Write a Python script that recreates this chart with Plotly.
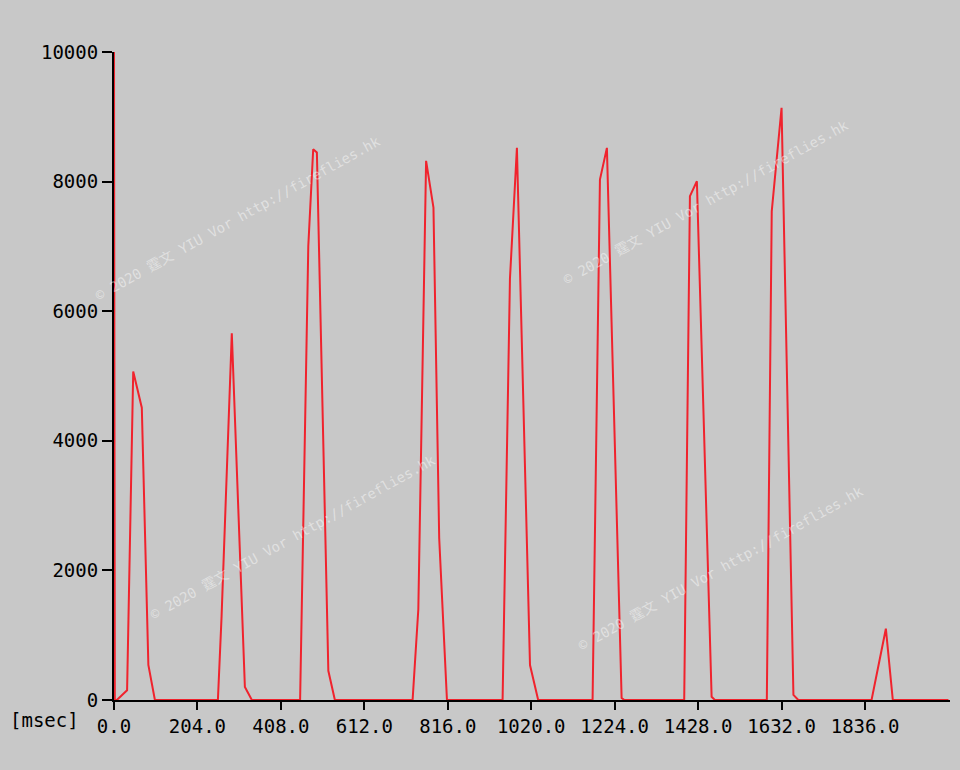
import plotly.graph_objects as go

# ---- data ----
time_ms = [0, 2, 7, 32, 47, 68, 84, 100,
           254, 263, 288, 320, 337,
           455, 475, 487, 496, 524, 540,
           730, 744, 763, 781, 795, 814,
           950, 968, 985, 1017, 1037,
           1170, 1188, 1205, 1241, 1248,
           1394, 1408, 1425, 1461, 1469,
           1596, 1608, 1632, 1661, 1673,
           1852, 1887, 1904, 2040]
intensity = [10000, 0, 0, 150, 5070, 4510, 540, 0,
             0, 1290, 5660, 200, 0,
             0, 7000, 8500, 8450, 450, 0,
             0, 1400, 8320, 7600, 2500, 0,
             0, 6500, 8520, 540, 0,
             0, 8030, 8520, 30, 0,
             0, 7775, 8005, 50, 0,
             0, 7540, 9140, 80, 0,
             0, 1100, 0, 0]

x_tick_vals = [0, 204, 408, 612, 816, 1020, 1224, 1428, 1632, 1836]
x_tick_text = ["0.0", "204.0", "408.0", "612.0", "816.0", "1020.0",
               "1224.0", "1428.0", "1632.0", "1836.0"]
y_tick_vals = [0, 2000, 4000, 6000, 8000, 10000]
y_tick_text = ["0", "2000", "4000", "6000", "8000", "10000"]

unit_label = "[msec]"
watermark = "© 2020 霆文 YIU Vor http://fireflies.hk"

BG = "#c8c8c8"
FONT = "DejaVu Sans Mono, Noto Sans CJK SC, monospace"

fig = go.Figure()
fig.add_trace(go.Scatter(
    x=time_ms, y=intensity, mode="lines",
    line=dict(color="rgb(240,35,45)", width=2),
    hoverinfo="skip", showlegend=False,
))

axis_common = dict(
    showline=True, linecolor="black", linewidth=2,
    ticks="outside", tickcolor="black", tickwidth=2,
    showgrid=False, zeroline=False, fixedrange=True,
    tickfont=dict(family=FONT, size=19, color="black"),
)

fig.update_xaxes(range=[0, 2043.8], tickmode="array",
                 tickvals=x_tick_vals, ticktext=x_tick_text,
                 ticklen=8, **axis_common)
fig.update_yaxes(range=[0, 10000], tickmode="array",
                 tickvals=y_tick_vals, ticktext=y_tick_text,
                 ticklen=10, **axis_common)

annotations = [dict(
    text=unit_label, xref="paper", yref="paper",
    x=-0.1268, y=-0.031, xanchor="left", yanchor="middle",
    showarrow=False, font=dict(family=FONT, size=19, color="black"),
)]
for wx, wy in [(0.1483, 0.7438), (0.2141, 0.2515), (0.7081, 0.7685), (0.7261, 0.2037)]:
    annotations.append(dict(
        text=watermark, xref="paper", yref="paper", x=wx, y=wy,
        xanchor="center", yanchor="middle", textangle=-29,
        showarrow=False,
        font=dict(family=FONT, size=14, color="rgba(255,255,255,0.45)"),
    ))

fig.update_layout(
    width=960, height=770,
    margin=dict(l=114, r=10, t=52, b=70),
    paper_bgcolor=BG, plot_bgcolor=BG,
    annotations=annotations,
    showlegend=False,
)

fig.write_html("out.html", config={"displayModeBar": False},
               post_script="document.body.style.margin='0px';"
                           "document.body.style.padding='0px';"
                           "document.body.style.background='" + BG + "';")
